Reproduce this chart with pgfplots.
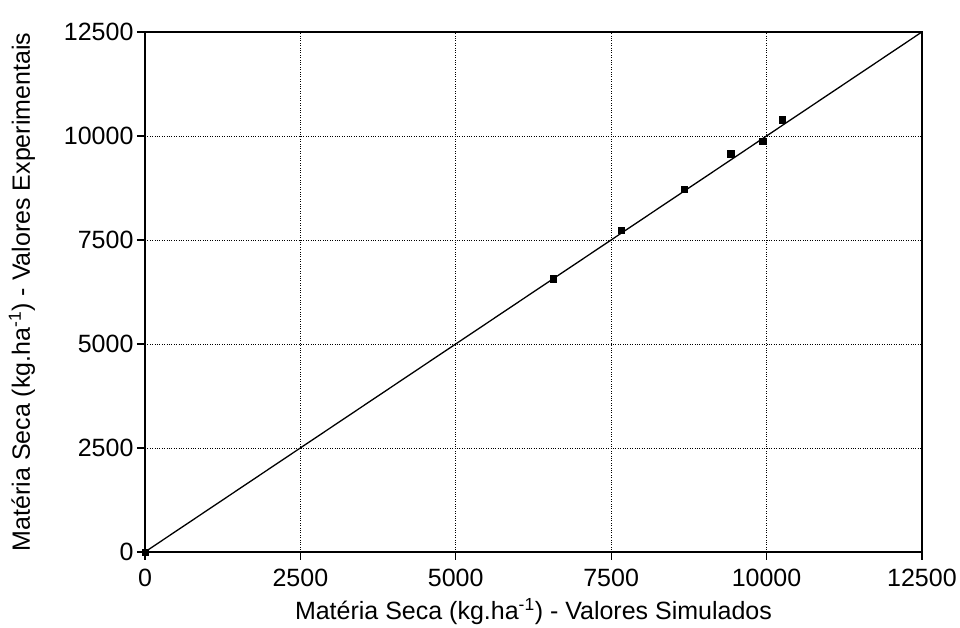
\documentclass[border=0pt]{standalone}
\usepackage{pgfplots}
\pgfplotsset{compat=1.18}
\usepackage{fontspec}
\setmainfont{Liberation Sans}
\begin{document}
\begin{tikzpicture}
\begin{axis}[
  name=ax,
  scale only axis,
  width=777pt, height=520pt,
  xmin=0, xmax=12500, ymin=0, ymax=12500,
  xtick={0,2500,5000,7500,10000,12500},
  ytick={0,2500,5000,7500,10000,12500},
  /pgf/number format/assume math mode=true,
  /pgf/number format/1000 sep={},
  scaled ticks=false,
  tick pos=left,
  tick align=outside,
  major tick length=8pt,
  tick style={black, line width=1.2pt},
  axis line style={line width=1.5pt},
  xmajorgrids, ymajorgrids,
  grid style={black, dotted, line width=0.9pt},
  ticklabel style={font=\fontsize{25}{29}\selectfont},
  xticklabel style={yshift=-6pt},
  label style={font=\fontsize{25}{29}\selectfont},
  xlabel={Matéria Seca (kg.ha\textsuperscript{-1}) - Valores Simulados},
  ylabel={Matéria Seca (kg.ha\textsuperscript{-1})  - Valores Experimentais},
  xlabel style={yshift=-4pt},
  ylabel style={yshift=22pt},
]
\addplot[black, line width=1.3pt] coordinates {(0,0) (12500,12500)};
\addplot[only marks, mark=square*, mark size=3.2pt, black] coordinates {
  (0,0) (6566,6568) (7660,7733) (8676,8714) (9423,9578) (9936,9879) (10256,10396)
};
\end{axis}
\path ([shift={(-145pt,-69pt)}]ax.south west) rectangle ([shift={(38pt,32pt)}]ax.north east);
\end{tikzpicture}
\end{document}
